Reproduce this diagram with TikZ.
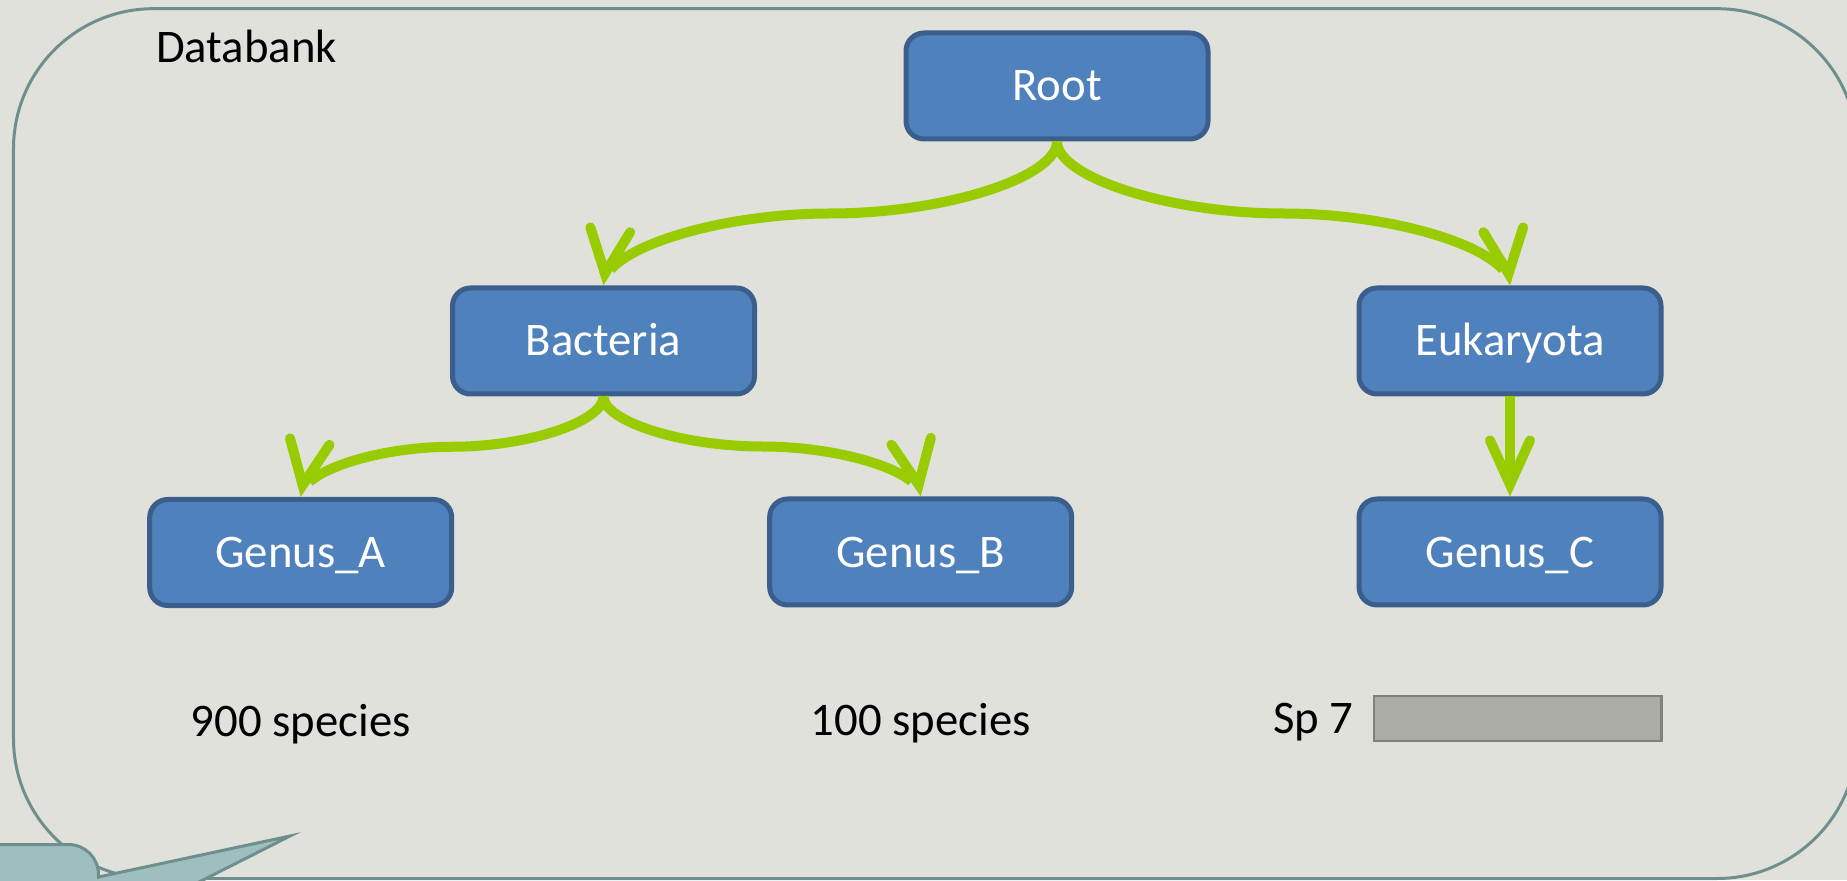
\documentclass[tikz,border=0pt]{standalone}
\usepackage{fontspec}
\setmainfont{Carlito}
\usetikzlibrary{positioning, calc, arrows.meta, bending}
\definecolor{bankgray}{HTML}{E0E1DB}
\definecolor{framecol}{HTML}{6F8F8F}
\definecolor{calloutcol}{HTML}{9DC0BF}
\definecolor{boxfill}{HTML}{4F81BD}
\definecolor{boxline}{HTML}{3B5E8C}
\definecolor{lime}{HTML}{99CC00}
\definecolor{barfill}{HTML}{ABACA6}
\definecolor{barline}{HTML}{80817C}

\begin{document}
\begin{tikzpicture}[
	font=\fontsize{13.3}{16}\selectfont,
	taxon/.style={shape=rectangle, rounded corners=0.18cm, draw=boxline, fill=boxfill, line width=0.05cm, minimum width=3.02cm, minimum height=1.06cm, text=white, text height=0.30cm, text depth=0cm, inner sep=0pt},
	caption/.style={inner sep=0pt, outer sep=0pt, text height=0.30cm, text depth=0cm},
	link/.style={draw=lime, line width=0.10cm, -{Straight Barb[length=0.44cm, width=0.40cm, line cap=round, line join=miter, flex=0.6]}},
	elbow/.style={to path={let \p1=(\tikztostart), \p2=(\tikztotarget) in .. controls (\x1, {\y1+(\y2-\y1)/4}) and ({\x1+(\x2-\x1)/4}, {(\y1+\y2)/2}) .. ({(\x1+\x2)/2}, {(\y1+\y2)/2}) .. controls ({\x1+3*(\x2-\x1)/4}, {(\y1+\y2)/2}) and (\x2, {\y1+3*(\y2-\y1)/4}) .. (\x2,\y2) \tikztonodes}}
]
	% Page, frame and callout:
	\fill[bankgray] (0, 0) rectangle (18.47, 8.80);
	\useasboundingbox (0, 0) rectangle (18.47, 8.80);
	\clip (0, 0) rectangle (18.47, 8.80);
	\draw[framecol, line width=0.03cm, rounded corners=1.4cm] (0.135, 0.015) rectangle (18.57, 8.713);
	\filldraw[fill=calloutcol, draw=framecol, line width=0.03cm] (-0.2, 0.355) -- (0.685, 0.355) arc[start angle=90, end angle=0, radius=0.3] -- (0.985, 0.03) -- (2.90, 0.44) -- (1.635, -0.20) -- (-0.2, -0.2) -- cycle;
	\node[caption, anchor=base west] (bank) at (1.56, 8.173) {Databank};
	% Taxa:
	\node[taxon] (root) at (10.57, 7.94) {Root};
	\node[taxon] (bac) at (6.035, 5.39) {Bacteria};
	\node[taxon] (euk) at (15.10, 5.39) {Eukaryota};
	\node[taxon] (gena) at (3.007, 3.275) {Genus\_A};
	\node[taxon] (genb) at (9.207, 3.28) {Genus\_B};
	\node[taxon] (genc) at (15.10, 3.28) {Genus\_C};
	% Links:
	\draw[link] (root.south) to[elbow] (bac.north);
	\draw[link] (root.south) to[elbow] (euk.north);
	\draw[link] (bac.south) to[elbow] (gena.north);
	\draw[link] (bac.south) to[elbow] (genb.north);
	\draw[link] (euk) -- (genc);
	% Species counts:
	\node[caption, below=0.98cm of gena] (counta) {900 species};
	\node[caption, below=0.98cm of genb] (countb) {100 species};
	\node[shape=rectangle, draw=barline, fill=barfill, line width=0.025cm, minimum width=2.875cm, minimum height=0.45cm, inner sep=0pt] (bar) at (15.175, 1.615) {};
	\node[caption, left=0.19cm of bar] (spseven) {Sp 7};
\end{tikzpicture}
\end{document}
